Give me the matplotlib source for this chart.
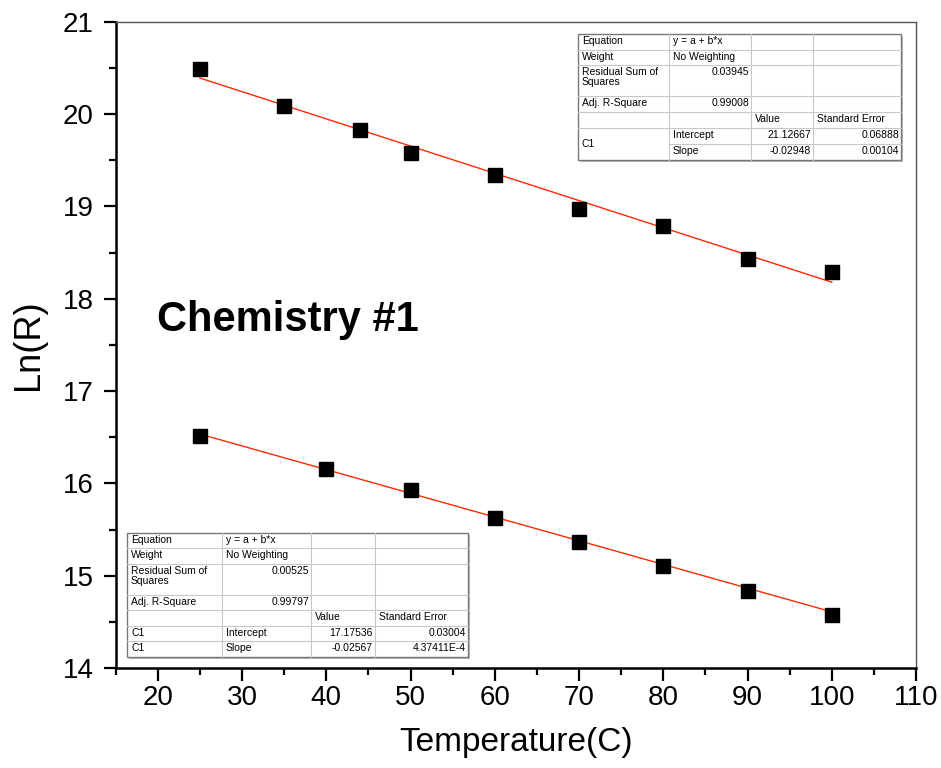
import matplotlib
matplotlib.use('Agg')
import matplotlib.pyplot as plt
import numpy as np
from matplotlib.ticker import MultipleLocator, FormatStrFormatter

# data
temp_1 = [25, 35, 44, 50, 60, 70, 80, 90, 100]
lnr_1 = [20.49, 20.09, 19.83, 19.58, 19.34, 18.97, 18.79, 18.43, 18.29]
temp_2 = [25, 40, 50, 60, 70, 80, 90, 100]
lnr_2 = [16.51, 16.15, 15.93, 15.62, 15.36, 15.10, 14.83, 14.57]

# fit results (from the tables)
fit_1 = [21.12667, -0.02948]
fit_2 = [17.17536, -0.02567]

table_1 = [
    ["Equation", "y = a + b*x", "", ""],
    ["Weight", "No Weighting", "", ""],
    ["Residual Sum of\nSquares", "0.03945", "", ""],
    ["Adj. R-Square", "0.99008", "", ""],
    ["", "", "Value", "Standard Error"],
    ["C1", "Intercept", "21.12667", "0.06888"],
    ["", "Slope", "-0.02948", "0.00104"],
]
table_2 = [
    ["Equation", "y = a + b*x", "", ""],
    ["Weight", "No Weighting", "", ""],
    ["Residual Sum of\nSquares", "0.00525", "", ""],
    ["Adj. R-Square", "0.99797", "", ""],
    ["", "", "Value", "Standard Error"],
    ["C1", "Intercept", "17.17536", "0.03004"],
    ["C1", "Slope", "-0.02567", "4.37411E-4"],
]

W, H = 941, 768
plt.rcParams['font.family'] = ['Liberation Sans', 'DejaVu Sans']
fig = plt.figure(figsize=(W / 100, H / 100), dpi=100)
ax = fig.add_axes([115.7 / W, 1 - 668 / H, (916 - 115.7) / W, (668 - 21.7) / H])

ax.plot(temp_1, lnr_1, 's', color='black', markersize=10, zorder=3)
ax.plot(temp_2, lnr_2, 's', color='black', markersize=10, zorder=3)

xs = np.array([temp_1[0], temp_1[-1]])
ax.plot(xs, fit_1[0] + fit_1[1] * xs, color='#ff2a00', lw=1.0, zorder=2)
xs = np.array([temp_2[0], temp_2[-1]])
ax.plot(xs, fit_2[0] + fit_2[1] * xs, color='#ff2a00', lw=1.0, zorder=2)

ax.set_xlim(15, 110)
ax.set_ylim(14, 21)
ax.xaxis.set_major_locator(MultipleLocator(10))
ax.xaxis.set_minor_locator(MultipleLocator(5))
ax.yaxis.set_major_locator(MultipleLocator(1))
ax.yaxis.set_minor_locator(MultipleLocator(0.5))
ax.yaxis.set_major_formatter(FormatStrFormatter('%d'))
ax.tick_params(which='major', direction='out', length=9, width=1.6, labelsize=20)
ax.tick_params(which='minor', direction='out', length=5, width=1.6)
ax.tick_params(axis='x', which='major', pad=3)
ax.tick_params(axis='y', which='major', pad=7)
for s in ['left', 'bottom']:
    ax.spines[s].set_linewidth(1.8)
for s in ['top', 'right']:
    ax.spines[s].set_linewidth(1.0)
    ax.spines[s].set_color('#555555')

ax.set_xlabel('Temperature(C)', fontsize=24, labelpad=12)
ax.set_ylabel('Ln(R)', fontsize=26, labelpad=12)

fig.text(157 / W, 1 - 320 / H, 'Chemistry #1', fontsize=30, fontweight='bold',
         va='center', ha='left')


def draw_table(rows, x_edges, y_edges, merge_c1):
    # pixel coords from top-left of figure
    def fx(x):
        return x / W

    def fy(y):
        return 1 - y / H

    x0, x1 = x_edges[0], x_edges[-1]
    y0, y1 = y_edges[0], y_edges[-1]
    # shadow + background
    fig.patches.append(plt.Rectangle((fx(x0 + 2), fy(y1 + 2)), (x1 - x0) / W, (y1 - y0) / H,
                                     transform=fig.transFigure, fc='#bbbbbb', ec='none', zorder=4))
    fig.patches.append(plt.Rectangle((fx(x0), fy(y1)), (x1 - x0) / W, (y1 - y0) / H,
                                     transform=fig.transFigure, fc='white', ec='#777777', lw=1.0, zorder=5))
    # inner grid lines
    for i, y in enumerate(y_edges[1:-1], start=1):
        xa = x0
        if merge_c1 and i == 6:
            xa = x_edges[1]
        fig.add_artist(plt.Line2D([fx(xa), fx(x1)], [fy(y), fy(y)], color='#c8c8c8', lw=0.8, zorder=6))
    for x in x_edges[1:-1]:
        fig.add_artist(plt.Line2D([fx(x), fx(x)], [fy(y0), fy(y1)], color='#c8c8c8', lw=0.8, zorder=6))
    for r, row in enumerate(rows):
        for c, txt in enumerate(row):
            if not txt:
                continue
            ytop = y_edges[r]
            if merge_c1 and r == 5 and c == 0:
                ymid = (y_edges[5] + y_edges[7]) / 2
                fig.text(fx(x_edges[0] + 4), fy(ymid), txt, fontsize=7.5, va='center', ha='left', zorder=7)
                continue
            is_num = txt[0].isdigit() or txt[0] == '-'
            if c > 0 and is_num:
                fig.text(fx(x_edges[c + 1] - 2), fy(ytop + 2), txt, fontsize=7.5, va='top', ha='right', zorder=7)
            else:
                fig.text(fx(x_edges[c] + 4), fy(ytop + 2), txt, fontsize=7.5, va='top', ha='left',
                         linespacing=0.95, zorder=7)


draw_table(table_1, [578, 669, 751, 813, 901], [34, 50, 65, 96, 112, 128, 144, 160], True)
draw_table(table_2, [127, 222, 311, 375, 468], [533, 548, 564, 595, 610, 626, 641, 657], False)

fig.savefig('out.png', dpi=100)
